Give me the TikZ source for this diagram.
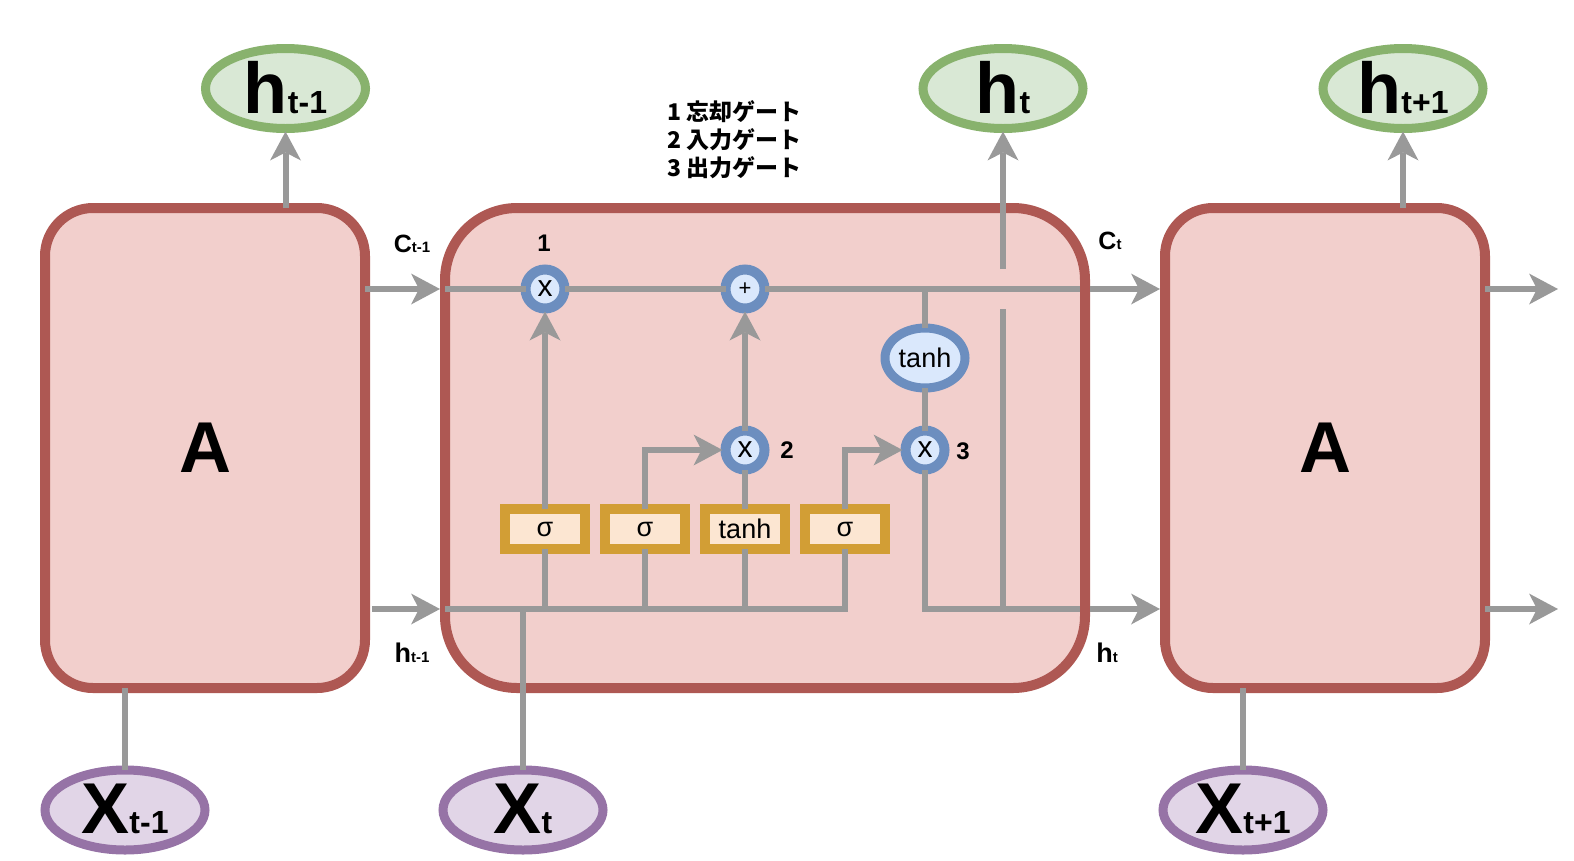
\documentclass[tikz,border=0pt]{standalone}
\usepackage{fontspec}
\setmainfont{Liberation Sans}
\newfontfamily\cjk{Noto Sans CJK JP}
\usetikzlibrary{arrows.meta,shapes.geometric}
\definecolor{cellfill}{HTML}{F2CFCC}
\definecolor{cellline}{HTML}{AE5853}
\definecolor{grnfill}{HTML}{D9E8D5}
\definecolor{grnline}{HTML}{88B26D}
\definecolor{purfill}{HTML}{E1D5E7}
\definecolor{purline}{HTML}{9673A6}
\definecolor{blufill}{HTML}{DAE8FC}
\definecolor{bluline}{HTML}{6C8EBF}
\definecolor{gldfill}{HTML}{FCE6D2}
\definecolor{gldline}{HTML}{D29E35}
\definecolor{conn}{HTML}{999999}
\newcommand\bigtag[3]{\smash{\makebox[0pt]{\raisebox{#1}{\bfseries\fontsize{72}{72}\selectfont #2\fontsize{32}{32}\selectfont #3}}}}
\newcommand\sidetag[3]{\bfseries\fontsize{#1}{#1}\selectfont #2\fontsize{15}{15}\selectfont #3}
\begin{document}
\begin{tikzpicture}[x=1pt,y=-1pt,
  every node/.style={outer sep=0pt, inner sep=0pt},
  cell/.style={rectangle, draw=cellline, fill=cellfill, line width=10pt, minimum width=320pt, minimum height=480pt, rounded corners=48pt, font=\bfseries\fontsize{72}{72}\selectfont},
  outell/.style={ellipse, draw=grnline, fill=grnfill, line width=9pt, minimum width=160pt, minimum height=80pt},
  inell/.style={ellipse, draw=purline, fill=purfill, line width=9pt, minimum width=160pt, minimum height=80pt},
  op/.style={circle, draw=bluline, fill=blufill, line width=10pt, minimum size=39pt},
  actell/.style={ellipse, draw=bluline, fill=blufill, line width=9pt, minimum width=80pt, minimum height=60pt, font=\fontsize{27}{27}\selectfont},
  layer/.style={rectangle, draw=gldline, fill=gldfill, line width=10pt, minimum width=80pt, minimum height=40pt, font=\fontsize{27}{27}\selectfont},
  ln/.style={draw=conn, line width=6pt},
  arr/.style={draw=conn, line width=6pt, -{Stealth[length=29pt,width=31pt,inset=8pt,line width=0pt]}},
  tipgap/.style={shorten >=3pt},
  boxgap/.style={shorten >=5pt},
  num/.style={font=\bfseries\fontsize{24}{24}\selectfont},
  mulsign/.style={font=\fontsize{30}{30}\selectfont}
]
\useasboundingbox (0,0) rectangle (1574,860);

% cells
\node[cell] (Lbox) at (205,448) {A};
\node[cell, minimum width=640pt, rounded corners=72pt] (Mbox) at (765,448) {};
\node[cell] (Rbox) at (1325,448) {A};

% outputs and inputs
\node[outell] (hL) at (285.5,88.5) {\bigtag{-24.5pt}{h}{t-1}};
\node[outell] (hM) at (1003,88.5) {\bigtag{-24.5pt}{h}{t}};
\node[outell] (hR) at (1403,88.5) {\bigtag{-24.5pt}{h}{t+1}};
\node[inell] (xL) at (125,810) {\bigtag{-23pt}{X}{t-1}};
\node[inell] (xM) at (523,810) {\bigtag{-23pt}{X}{t}};
\node[inell] (xR) at (1243,810) {\bigtag{-23pt}{X}{t+1}};

% gate layers
\node[layer] (s1) at (545,529) {σ};
\node[layer] (s2) at (645,529) {σ};
\node[layer] (s3) at (745,529) {tanh};
\node[layer] (s4) at (845,529) {σ};

% pointwise operations
\node[op, mulsign] (m1) at (545,289) {x};
\node[op, font=\fontsize{22}{22}\selectfont] (pl) at (745,289) {+};
\node[op, mulsign] (m2) at (745,450) {x};
\node[op, mulsign] (m3) at (925,450) {x};
\node[actell] (th) at (925,358) {tanh};

% coordinates
\coordinate (cin) at (445,289);
\coordinate (hin) at (445,609);
\coordinate (jc) at (925,289);
\coordinate (hx) at (1003,609);
\coordinate (gapB) at (1003,309);
\coordinate (gapT) at (1003,269);
\coordinate (outC) at (1558,289);
\coordinate (outH) at (1558,609);

% left cell
\draw[arr, tipgap] (hL |- Lbox.north) -- (hL);
\draw[ln] (xL) -- (xL |- Lbox.south);
\draw[arr, boxgap] (Lbox.east |- cin) -- (cin);
\draw[arr, boxgap, shorten <=7pt] (Lbox.east |- hin) -- (hin);

% cell state line
\draw[ln] (cin) -- (m1.west);
\draw[ln] (m1.east) -- (pl.west);
\draw[ln, shorten >=5pt] (pl.east) -- (Mbox.east |- pl);
\draw[arr, boxgap, shorten <=5pt] (Mbox.east |- pl) -- (Rbox.west |- pl);

% hidden/input line
\draw[ln] (hin) -- (s4 |- hin) -- (s4.south);
\draw[ln] (s1 |- hin) -- (s1.south);
\draw[ln] (s2 |- hin) -- (s2.south);
\draw[ln] (s3 |- hin) -- (s3.south);
\draw[ln] (xM) -- (xM |- hin);

% gates
\draw[arr, tipgap] (s1.north) -- (m1.south);
\draw[arr, tipgap] (s2.north) |- (m2.west);
\draw[ln] (s3.north) -- (m2.south);
\draw[arr, tipgap] (m2.north) -- (pl.south);
\draw[arr, tipgap] (s4.north) |- (m3.west);
\draw[ln] (jc) -- (th.north);
\draw[ln] (th.south) -- (m3.north);
\draw[ln] (m3.south) |- (hx);
\draw[ln, shorten >=5pt] (hx) -- (Mbox.east |- hx);
\draw[arr, boxgap, shorten <=5pt] (Mbox.east |- hx) -- (Rbox.west |- hx);
\draw[ln] (hx) -- (gapB);
\draw[arr, tipgap] (gapT) -- (hM);

% right cell
\draw[arr, tipgap] (hR |- Rbox.north) -- (hR);
\draw[ln] (xR) -- (xR |- Rbox.south);
\draw[arr] (Rbox.east |- outC) -- (outC);
\draw[arr] (Rbox.east |- outH) -- (outH);

% labels
\node[anchor=base] (lc1) at (412,252) {\sidetag{25}{C}{t-1}};
\node[anchor=base] (lc2) at (1110,249) {\sidetag{25}{C}{t}};
\node[anchor=base] (lh1) at (412,662) {\sidetag{27}{h}{t-1}};
\node[anchor=base] (lh2) at (1107,662) {\sidetag{27}{h}{t}};
\node[num] (n1) at (544,243) {1};
\node[num] (n2) at (787,450) {2};
\node[num] (n3) at (963,451) {3};
\node[anchor=west, align=left, font=\cjk\bfseries\fontsize{23}{28}\selectfont] (legend) at (667,140) {1 忘却ゲート\\2 入力ゲート\\3 出力ゲート};
\end{tikzpicture}
\end{document}
